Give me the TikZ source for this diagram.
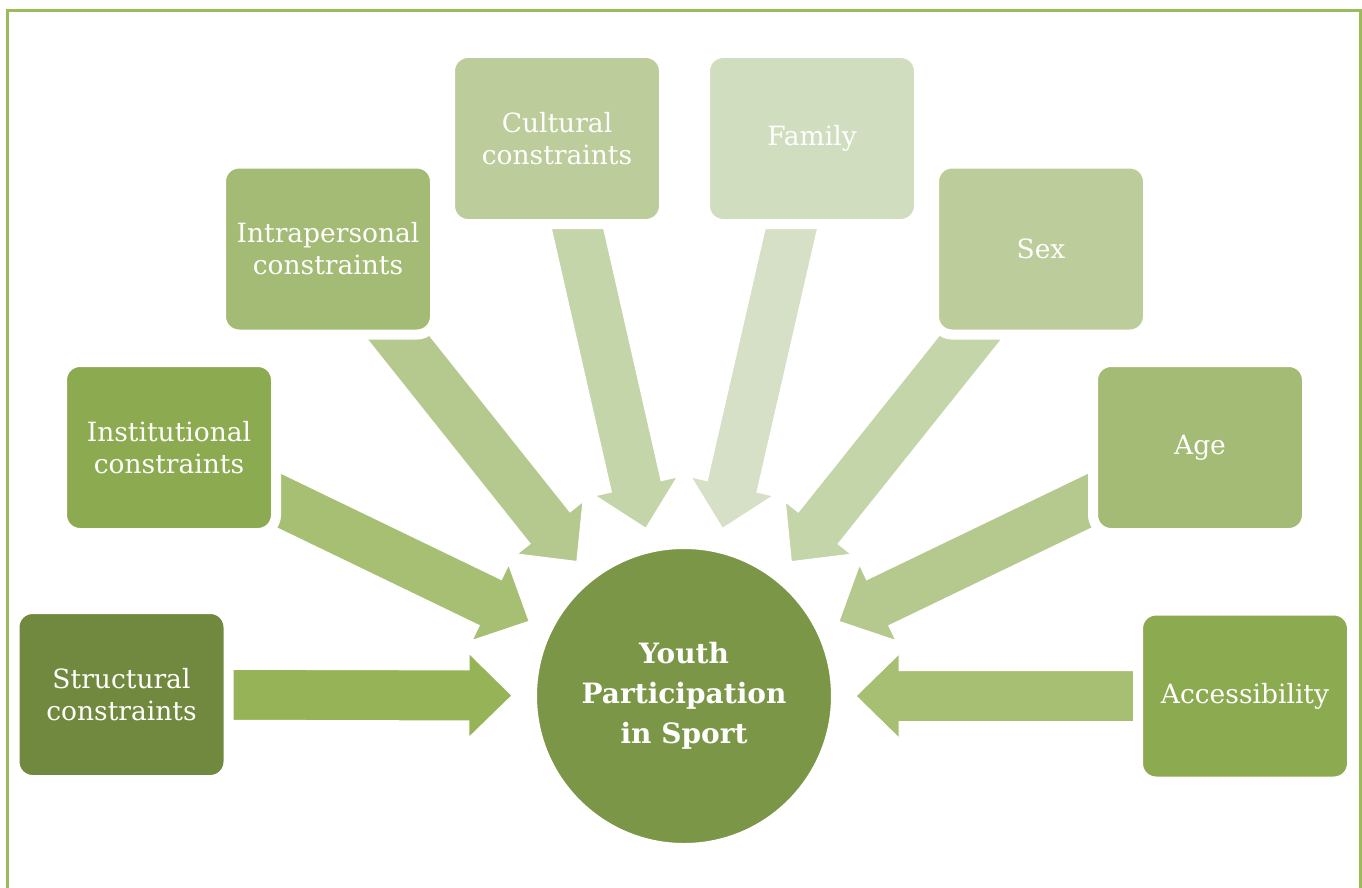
\documentclass[tikz,border=0pt]{standalone}
\usepackage{fontspec}
\setmainfont{DejaVu Serif}
\usetikzlibrary{calc, backgrounds}

\definecolor{rule}{HTML}{9BBB59}
\definecolor{hubgreen}{HTML}{7B9647}
\definecolor{olive1}{HTML}{71893F}
\definecolor{olive2}{HTML}{8CAA50}
\definecolor{olive3}{HTML}{A3BB74}
\definecolor{olive4}{HTML}{BCCC9A}
\definecolor{olive5}{HTML}{D0DDBE}
\definecolor{shaft1}{HTML}{97B358}
\definecolor{shaft2}{HTML}{A6BF72}
\definecolor{shaft3}{HTML}{B5C98F}
\definecolor{shaft4}{HTML}{C5D5AA}
\definecolor{shaft5}{HTML}{D6E0C6}

\tikzstyle{factor} = [rectangle, rounded corners=18pt, draw=white, line width=10pt,
  minimum width=214pt, minimum height=171pt, inner sep=0pt, align=center,
  text=white, font=\fontsize{26.5}{32}\selectfont]
\tikzstyle{hub} = [circle, draw=white, line width=2pt, fill=hubgreen, minimum size=296pt,
  inner sep=0pt, align=center, text=white, font=\bfseries\fontsize{28}{40}\selectfont]
\tikzstyle{border} = [draw=rule, line width=3pt]

% block arrow: #1 colour, #2 box it leaves, #3 node it points at
\newcommand{\fatarrow}[3]{%
  \coordinate (tip) at ($(#3.center)!172pt!(#2.center)$);
  \coordinate (neck) at ($(tip)!43pt!(#2.center)$);
  \fill[#1, draw=white, line width=1pt]
    ($(#2.center)!25.5pt!90:(tip)$) -- ($(neck)!25.5pt!90:(tip)$)
    -- ($(neck)!42pt!90:(tip)$) -- (tip) -- ($(neck)!42pt!-90:(tip)$)
    -- ($(neck)!25.5pt!-90:(tip)$) -- ($(#2.center)!25.5pt!-90:(tip)$) -- cycle;}

\begin{document}
\begin{tikzpicture}[x=1pt, y=-1pt]
  \useasboundingbox (0,0) rectangle (1362,888);
  \draw[border] (7.5,888) -- (7.5,10.5) -- (1360.5,10.5) -- (1360.5,888);

  %%% Centre:
  \node[hub] (sport) at (684,696) {Youth\\Participation\\in Sport};

  %%% Constraints, left to right:
  \node[factor, fill=olive1] (structural) at (121.5,694.5) {Structural\\constraints};
  \node[factor, fill=olive2] (institutional) at (169,447.5) {Institutional\\constraints};
  \node[factor, fill=olive3] (intrapersonal) at (328,249) {Intrapersonal\\constraints};
  \node[factor, fill=olive4] (cultural) at (557,138.5) {Cultural\\constraints};
  \node[factor, fill=olive5] (family) at (812,138.5) {Family};
  \node[factor, fill=olive4] (sex) at (1041,249) {Sex};
  \node[factor, fill=olive3] (age) at (1200,447.5) {Age};
  \node[factor, fill=olive2] (access) at (1245,696) {Accessibility};

  %%% Arrows run under the boxes:
  \begin{scope}[on background layer]
    \fatarrow{shaft1}{structural}{sport}
    \fatarrow{shaft2}{institutional}{sport}
    \fatarrow{shaft3}{intrapersonal}{sport}
    \fatarrow{shaft4}{cultural}{sport}
    \fatarrow{shaft5}{family}{sport}
    \fatarrow{shaft4}{sex}{sport}
    \fatarrow{shaft3}{age}{sport}
    \fatarrow{shaft2}{access}{sport}
  \end{scope}
\end{tikzpicture}
\end{document}
